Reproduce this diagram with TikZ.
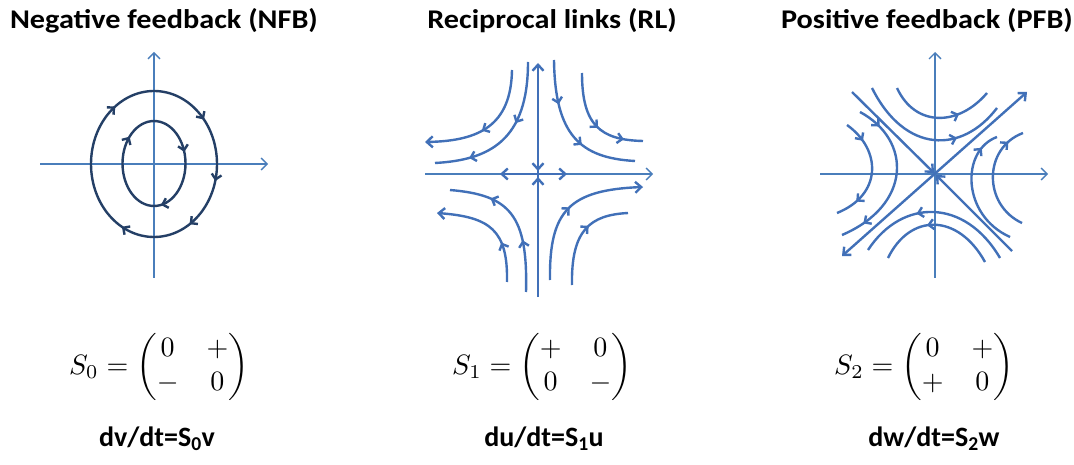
\documentclass[tikz,border=0pt]{standalone}
\usepackage{amsmath}
\usepackage{fontspec}
\setmainfont{Carlito}
\newfontfamily\titlefont{Carlito}[FakeStretch=1.12]
\usetikzlibrary{arrows.meta,positioning,decorations.markings}
\definecolor{axisblue}{HTML}{4A7EBB}
\definecolor{flowblue}{HTML}{4170B8}
\definecolor{orbitblue}{HTML}{243F66}
\newcommand{\bigmath}[1]{\scalebox{2.8}{$#1$}}
\tikzset{
  axis/.style={draw=axisblue, line width=1.3pt, -{Straight Barb[length=6pt,width=12pt]}},
  orbit/.style={draw=orbitblue, line width=2.4pt},
  flow/.style={draw=flowblue, line width=2.4pt},
  tip/.style={-{Straight Barb[length=6pt,width=11pt]}},
  midarrow/.style={postaction={decorate, decoration={markings,
      mark=at position #1 with {\arrow{Straight Barb[length=5pt,width=10pt]}}}}},
  title/.style={font=\fontsize{27}{32}\selectfont\titlefont\bfseries, anchor=base, inner sep=0pt},
  matrixeq/.style={inner sep=0pt},
  dyn/.style={font=\fontsize{28}{32}\selectfont\bfseries, anchor=base, inner sep=0pt}
}
\begin{document}
\begin{tikzpicture}[x=1pt, y=-1pt]
  \fill[white] (0,0) rectangle (1074,465);
  \useasboundingbox (0,0) rectangle (1074,465);

  % titles
  \node[title] (nfb) at (164,29) {Negative feedback (NFB)};
  \node[title] (rl) at (552,29) {Reciprocal links (RL)};
  \node[title] (pfb) at (927,29) {Positive feedback (PFB)};

  % negative feedback: closed orbits
  \draw[axis] (154,278) -- (154,52);
  \draw[axis] (40,164) -- (268,164);
  \draw[orbit, midarrow=0.14, midarrow=0.29, midarrow=0.41, midarrow=0.58, midarrow=0.9]
    (154,91) arc[start angle=-90, end angle=270, x radius=63, y radius=73];
  \draw[orbit, midarrow=0.2, midarrow=0.47, midarrow=0.87]
    (154,121) arc[start angle=-90, end angle=270, x radius=31.5, y radius=42.5];

  % reciprocal links: saddle along the axes
  \draw[axis] (425,174) -- (653,174);
  \draw[flow, tip] (538,297) -- (538,63);
  \draw[flow, tip] (538,174) -- (500,174);
  \draw[flow, tip] (538,174) -- (567,174);
  \draw[flow, tip] (538,150) -- (538,171);
  \draw[flow, tip] (538,198) -- (538,177);
  \draw[flow, tip, midarrow=0.55] (512,70) .. controls (511,125) and (480,141) .. (425,142);
  \draw[flow, midarrow=0.4, midarrow=0.78] (528,62) .. controls (528,140) and (490,160) .. (435,163);
  \draw[flow, midarrow=0.3, midarrow=0.62] (554,60) .. controls (555,135) and (580,158) .. (635,161);
  \draw[flow, midarrow=0.55, midarrow=0.82] (582,73) .. controls (582,125) and (600,140) .. (643,141);
  \draw[flow, midarrow=0.35, midarrow=0.72] (526,292) .. controls (528,215) and (510,195) .. (450,190);
  \draw[flow, tip, midarrow=0.35] (507,282) .. controls (508,230) and (490,217) .. (437,213);
  \draw[flow, tip, midarrow=0.5] (550,280) .. controls (549,210) and (570,190) .. (643,187);
  \draw[flow, midarrow=0.6] (572,285) .. controls (571,230) and (590,215) .. (628,213);

  % positive feedback: saddle along the diagonals
  \draw[axis] (935,278) -- (935,52);
  \draw[axis] (820,174) -- (1048,174);
  \draw[flow, {Straight Barb[length=6pt,width=11pt]}-{Straight Barb[length=6pt,width=11pt]}] (842,256) -- (1027,92);
  \draw[flow, tip] (852,92) -- (934,173);
  \draw[flow, tip] (1012,251) -- (936,175);
  \draw[flow, midarrow=0.68] (897,88) .. controls (915,127) and (958,127) .. (987,93);
  \draw[flow, midarrow=0.68] (872,88) .. controls (905,154) and (962,154) .. (997,108);
  \draw[flow, midarrow=0.62] (1000,258) .. controls (965,198) and (902,198) .. (868,250);
  \draw[flow, midarrow=0.58] (985,262) .. controls (958,213) and (910,213) .. (888,258);
  \draw[flow, midarrow=0.2, midarrow=0.8] (847,125) .. controls (882,150) and (882,195) .. (837,213);
  \draw[flow, midarrow=0.15, midarrow=0.85] (860,112) .. controls (912,140) and (912,205) .. (842,235);
  \draw[flow, midarrow=0.85] (1010,237) .. controls (961,215) and (961,150) .. (997,137);
  \draw[flow, midarrow=0.85] (1022,223) .. controls (983,205) and (983,148) .. (1023,133);

  % interaction matrices
  \node[matrixeq] (s0) at (159,367) {\bigmath{S_0 = \begin{pmatrix} 0 & + \\ - & 0 \end{pmatrix}}};
  \node[matrixeq] (s1) at (542,367) {\bigmath{S_1 = \begin{pmatrix} + & 0 \\ 0 & - \end{pmatrix}}};
  \node[matrixeq] (s2) at (924,367) {\bigmath{S_2 = \begin{pmatrix} 0 & + \\ + & 0 \end{pmatrix}}};

  % dynamics
  \node[dyn] (dv) at (157,446) {dv/dt=S\textsubscript{0}v};
  \node[dyn] (du) at (544,446) {du/dt=S\textsubscript{1}u};
  \node[dyn] (dw) at (934,446) {dw/dt=S\textsubscript{2}w};
\end{tikzpicture}
\end{document}
